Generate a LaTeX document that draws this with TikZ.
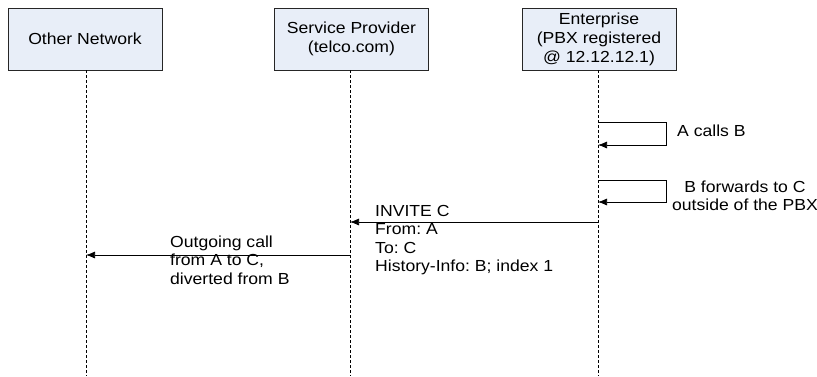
\documentclass[tikz,border=0pt]{standalone}
\usepackage{fontspec}
\setmainfont[FakeStretch=1.1]{Liberation Sans}
\usetikzlibrary{arrows.meta}
\frenchspacing
\definecolor{boxfill}{RGB}{232,238,248}
\tikzset{
  actor/.style={draw=black!85, fill=boxfill, line width=0.7pt, minimum width=154pt, minimum height=62pt, align=center, inner sep=0pt, font=\fontsize{16}{19}\selectfont},
  life/.style={line width=0.6pt, dash pattern=on 3pt off 2pt},
  msg/.style={line width=0.7pt, -{Latex[length=9pt,width=7pt]}},
  lbl/.style={font=\fontsize{16}{18.5}\selectfont, inner sep=0pt, align=left}
}
\begin{document}
\begin{tikzpicture}[x=1pt,y=-1pt]
\useasboundingbox (0,0) rectangle (817,376);
\node[actor] (on) at (85,39) {Other Network};
\node[actor] (sp) at (351.5,39) {Service Provider\\(telco.com)};
\node[actor] (en) at (599,39) {Enterprise\\(PBX registered\\@ 12.12.12.1)};
\coordinate (onb) at (86,376);
\coordinate (spb) at (350,376);
\coordinate (enb) at (598,376);
\draw[life] (on.south -| onb) -- (onb);
\draw[life] (sp.south -| spb) -- (spb);
\draw[life] (en.south -| enb) -- (enb);
% self messages
\coordinate (s1a) at (599,122);
\coordinate (s1b) at (666,122);
\coordinate (s1c) at (666,145);
\coordinate (s1d) at (598,145);
\draw[msg] (s1a) -- (s1b) -- (s1c) -- (s1d);
\node[lbl, anchor=base west] (t1) at (677,136) {A calls B};
\coordinate (s2a) at (599,180);
\coordinate (s2b) at (666,180);
\coordinate (s2c) at (666,202);
\coordinate (s2d) at (598,202);
\draw[msg] (s2a) -- (s2b) -- (s2c) -- (s2d);
\node[lbl, align=center, anchor=base] (t2) at (745,210.5) {B forwards to C\\outside of the PBX};
% invite
\coordinate (i1) at (598,222);
\coordinate (i2) at (350,222);
\draw[msg] (i1) -- (i2);
\node[lbl, anchor=base west] (t3) at (375,271.5) {INVITE C\\From: A\\To: C\\History-Info: B; index 1};
% outgoing
\coordinate (o1) at (350,255);
\coordinate (o2) at (86,255);
\draw[msg] (o1) -- (o2);
\node[lbl, anchor=base west] (t4) at (170,284) {Outgoing call\\from A to C,\\diverted from B};
\end{tikzpicture}
\end{document}
